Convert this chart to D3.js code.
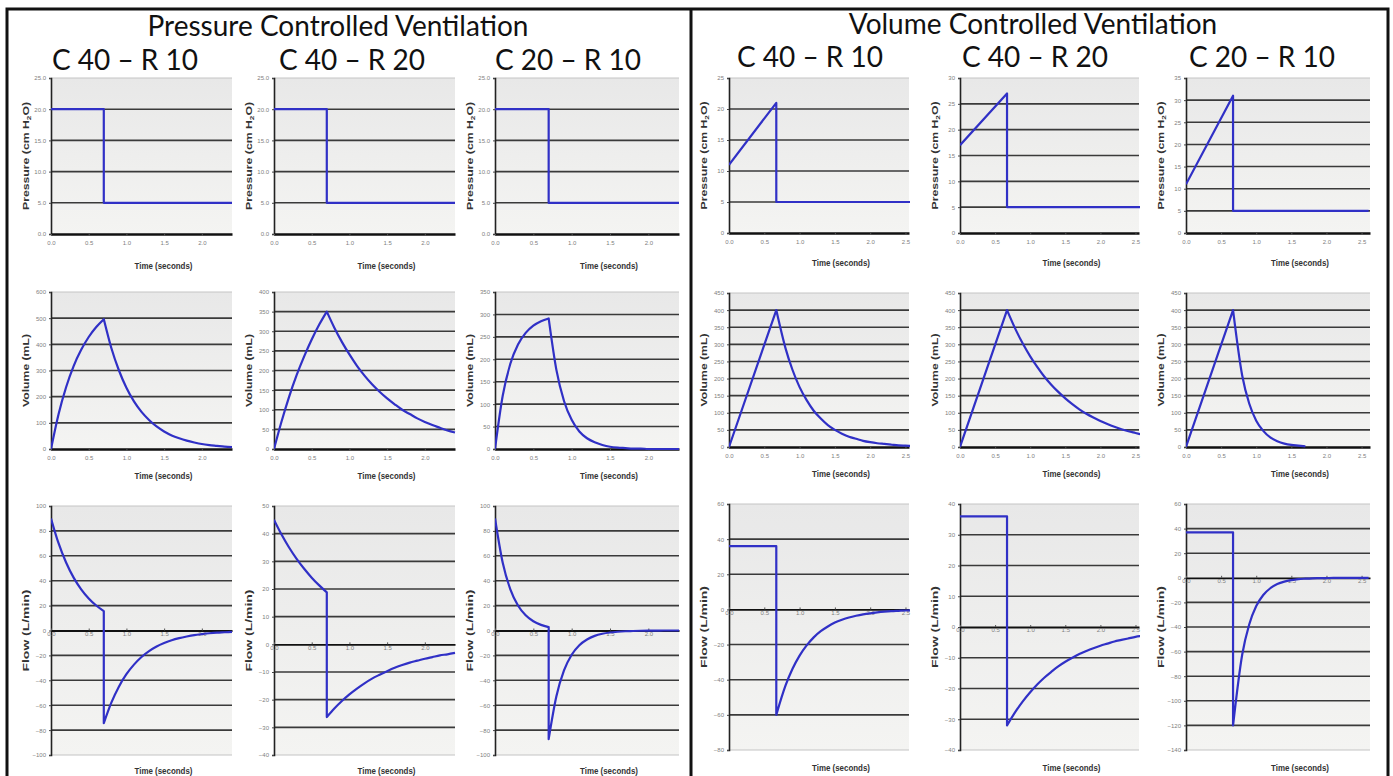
<!DOCTYPE html>
<html>
<head>
<meta charset="utf-8">
<script src="https://cdn.jsdelivr.net/npm/d3@7"></script>
<style>
body { margin: 0; background: #fff; }
svg text { font-family: "Liberation Sans", Arial, sans-serif; }
.big { font-family: Lato, "Open Sans", sans-serif !important; }
</style>
</head>
<body>
<div id="entry"></div>
<script>
// ---- data ----
var groupTitles = ['Pressure Controlled Ventilation', 'Volume Controlled Ventilation'];
var caseTitles = ['C 40 \u2013 R 10', 'C 40 \u2013 R 20', 'C 20 \u2013 R 10'];

// pressure controlled: time (s)
var pcvT = [0, 0.1, 0.2, 0.3, 0.4, 0.5, 0.6, 0.7, 0.7, 0.8, 0.9, 1.0, 1.1, 1.2, 1.3, 1.4, 1.5, 1.6, 1.7, 1.8, 1.9, 2.0, 2.1, 2.2, 2.3, 2.4];
var pcvPressT = [0, 0.7, 0.7, 2.4];
var pcvPress = [20, 20, 5, 5];

var pcvVolC40R10 = [0, 133, 236, 317, 379, 428, 466, 496, 496, 386, 301, 234, 182, 142, 111, 86, 67, 52, 41, 32, 25, 19, 15, 12, 9, 7];
var pcvFlowC40R10 = [90, 70.1, 54.6, 42.5, 33.1, 25.8, 20.1, 15.6, -74.4, -57.9, -45.1, -35.1, -27.4, -21.3, -16.6, -12.9, -10.1, -7.8, -6.1, -4.8, -3.7, -2.9, -2.2, -1.7, -1.4, -1.1];
var pcvVolC40R20 = [0, 70, 133, 188, 236, 279, 317, 350, 350, 309, 273, 241, 212, 187, 165, 146, 129, 114, 100, 89, 78, 69, 61, 54, 47, 42];
var pcvFlowC40R20 = [45, 39.7, 35.0, 30.9, 27.3, 24.1, 21.3, 18.8, -26.3, -23.2, -20.5, -18.1, -16.0, -14.1, -12.4, -11.0, -9.7, -8.5, -7.5, -6.6, -5.9, -5.2, -4.6, -4.0, -3.6, -3.1];
var pcvVolC20R10 = [0, 118, 190, 233, 259, 275, 285, 291, 291, 177, 107, 65, 39, 24, 15, 9, 5, 3, 2, 1, 1, 0, 0, 0, 0, 0];
var pcvFlowC20R10 = [90, 54.6, 33.1, 20.1, 12.2, 7.4, 4.5, 2.7, -87.3, -53.0, -32.1, -19.5, -11.8, -7.2, -4.3, -2.6, -1.6, -1.0, -0.6, -0.4, -0.2, -0.1, -0.1, 0, 0, 0];

// volume controlled: time (s)
var vcvT = [0, 0.67, 0.67, 0.8, 0.9, 1.0, 1.1, 1.2, 1.3, 1.4, 1.5, 1.6, 1.7, 1.8, 1.9, 2.0, 2.1, 2.2, 2.3, 2.4, 2.5, 2.6];
var vcvPressT = [0, 0.67, 0.67, 2.6];
var vcvPressC40R10 = [11, 21, 5, 5];
var vcvPressC40R20 = [17, 27, 5, 5];
var vcvPressC20R10 = [11, 31, 5, 5];

var vcvVolC40R10 = [0, 400, 400, 289, 225, 175, 137, 106, 83, 64, 50, 39, 30, 24, 18, 14, 11, 9, 7, 5, 4, 3];
var vcvFlowC40R10 = [36, 36, -60, -43.4, -33.8, -26.3, -20.5, -15.9, -12.4, -9.7, -7.5, -5.9, -4.6, -3.6, -2.8, -2.2, -1.7, -1.3, -1.0, -0.8, -0.6, -0.5];
var vcvVolC40R20 = [0, 400, 400, 340, 300, 265, 234, 206, 182, 161, 142, 125, 110, 97, 86, 76, 67, 59, 52, 46, 41, 36];
var vcvFlowC40R20 = [36, 36, -32, -27.2, -24.0, -21.2, -18.7, -16.5, -14.6, -12.8, -11.3, -10.0, -8.8, -7.8, -6.9, -6.1, -5.4, -4.7, -4.2, -3.7, -3.2, -2.9];
var vcvVolC20R10 = [0, 400, 400, 209, 127, 77, 47, 28, 17, 10, 6, 4, 2];
var vcvFlowC20R10 = [37, 37, -120, -62.6, -38.0, -23.0, -14.0, -8.5, -5.1, -3.1, -1.9, -1.1, -0.7, -0.4, -0.3, -0.2, -0.1, -0.1, 0, 0, 0, 0];

// tick labels
var pcvTimeTicks = [0, 0.5, 1, 1.5, 2];
var vcvTimeTicks = [0, 0.5, 1, 1.5, 2, 2.5];
var press25Ticks = [0, 5, 10, 15, 20, 25];
var press30Ticks = [0, 5, 10, 15, 20, 25, 30];
var press35Ticks = [0, 5, 10, 15, 20, 25, 30, 35];
var vol600Ticks = [0, 100, 200, 300, 400, 500, 600];
var vol400Ticks = [0, 50, 100, 150, 200, 250, 300, 350, 400];
var vol350Ticks = [0, 50, 100, 150, 200, 250, 300, 350];
var vol450Ticks = [0, 50, 100, 150, 200, 250, 300, 350, 400, 450];
var flow100Ticks = [-100, -80, -60, -40, -20, 0, 20, 40, 60, 80, 100];
var flow50Ticks = [-40, -30, -20, -10, 0, 10, 20, 30, 40, 50];
var flow60Ticks = [-80, -60, -40, -20, 0, 20, 40, 60];
var flow40Ticks = [-40, -30, -20, -10, 0, 10, 20, 30, 40];
var flow140Ticks = [-140, -120, -100, -80, -60, -40, -20, 0, 20, 40, 60];

// ---- layout ----
var W = 1393, H = 776;
var cols = [
  {x0: 51, x1: 232}, {x0: 274, x1: 455}, {x0: 495, x1: 679},
  {x0: 729, x1: 909}, {x0: 960, x1: 1139}, {x0: 1186, x1: 1370}
];
var pcvRows = [{y0: 78, y1: 234, ty: 269}, {y0: 292, y1: 449, ty: 479}, {y0: 506, y1: 755, ty: 774}];
var vcvRows = [{y0: 78, y1: 233, ty: 266}, {y0: 293, y1: 447, ty: 477}, {y0: 504, y1: 750, ty: 771}];
var yTitleLen = {P: 108, V: 73, F: 82};
var yTitleText = {V: 'Volume (mL)', F: 'Flow (L/min)'};

var f1 = d3.format('.1f'), f0 = d3.format('d');
var zip = function(t, v) { return v.map(function(d, i) { return [t[i], d]; }); };

var panels = [
  // pressure controlled
  {c: 0, r: pcvRows[0], xd: [0, 2.4], xt: pcvTimeTicks, yt: press25Ticks, yf: f1, yl: 'P', pts: zip(pcvPressT, pcvPress)},
  {c: 0, r: pcvRows[1], xd: [0, 2.4], xt: pcvTimeTicks, yt: vol600Ticks, yf: f0, yl: 'V', pts: zip(pcvT, pcvVolC40R10)},
  {c: 0, r: pcvRows[2], xd: [0, 2.4], xt: pcvTimeTicks, yt: flow100Ticks, yf: f0, yl: 'F', pts: zip(pcvT, pcvFlowC40R10)},
  {c: 1, r: pcvRows[0], xd: [0, 2.4], xt: pcvTimeTicks, yt: press25Ticks, yf: f1, yl: 'P', pts: zip(pcvPressT, pcvPress)},
  {c: 1, r: pcvRows[1], xd: [0, 2.4], xt: pcvTimeTicks, yt: vol400Ticks, yf: f0, yl: 'V', pts: zip(pcvT, pcvVolC40R20)},
  {c: 1, r: pcvRows[2], xd: [0, 2.4], xt: pcvTimeTicks, yt: flow50Ticks, yf: f0, yl: 'F', pts: zip(pcvT, pcvFlowC40R20)},
  {c: 2, r: pcvRows[0], xd: [0, 2.4], xt: pcvTimeTicks, yt: press25Ticks, yf: f1, yl: 'P', pts: zip(pcvPressT, pcvPress)},
  {c: 2, r: pcvRows[1], xd: [0, 2.4], xt: pcvTimeTicks, yt: vol350Ticks, yf: f0, yl: 'V', pts: zip(pcvT, pcvVolC20R10)},
  {c: 2, r: pcvRows[2], xd: [0, 2.4], xt: pcvTimeTicks, yt: flow100Ticks, yf: f0, yl: 'F', pts: zip(pcvT, pcvFlowC20R10)},
  // volume controlled
  {c: 3, r: vcvRows[0], xd: [0, 2.55], xt: vcvTimeTicks, yt: press25Ticks, yf: f0, yl: 'P', pts: zip(vcvPressT, vcvPressC40R10)},
  {c: 3, r: vcvRows[1], xd: [0, 2.55], xt: vcvTimeTicks, yt: vol450Ticks, yf: f0, yl: 'V', pts: zip(vcvT, vcvVolC40R10)},
  {c: 3, r: vcvRows[2], xd: [0, 2.55], xt: vcvTimeTicks, yt: flow60Ticks, yf: f0, yl: 'F', pts: zip(vcvT, vcvFlowC40R10)},
  {c: 4, r: vcvRows[0], xd: [0, 2.55], xt: vcvTimeTicks, yt: press30Ticks, yf: f0, yl: 'P', pts: zip(vcvPressT, vcvPressC40R20)},
  {c: 4, r: vcvRows[1], xd: [0, 2.55], xt: vcvTimeTicks, yt: vol450Ticks, yf: f0, yl: 'V', pts: zip(vcvT, vcvVolC40R20)},
  {c: 4, r: vcvRows[2], xd: [0, 2.55], xt: vcvTimeTicks, yt: flow40Ticks, yf: f0, yl: 'F', pts: zip(vcvT, vcvFlowC40R20)},
  {c: 5, r: vcvRows[0], xd: [0, 2.62], xt: vcvTimeTicks, yt: press35Ticks, yf: f0, yl: 'P', pts: zip(vcvPressT, vcvPressC20R10)},
  {c: 5, r: vcvRows[1], xd: [0, 2.62], xt: vcvTimeTicks, yt: vol450Ticks, yf: f0, yl: 'V', pts: zip(vcvT, vcvVolC20R10)},
  {c: 5, r: vcvRows[2], xd: [0, 2.62], xt: vcvTimeTicks, yt: flow140Ticks, yf: f0, yl: 'F', pts: zip(vcvT, vcvFlowC20R10)}
];

var svg = d3.select('#entry').append('svg')
  .attr('width', W)
  .attr('height', H);

var defs = svg.append('defs');
var grad = defs.append('linearGradient').attr('id', 'plotbg')
  .attr('x1', 0).attr('y1', 0).attr('x2', 0).attr('y2', 1);
grad.append('stop').attr('offset', '0%').attr('stop-color', '#e8e8e8');
grad.append('stop').attr('offset', '100%').attr('stop-color', '#f4f4f2');

svg.append('rect').attr('width', W).attr('height', H).attr('fill', '#fff');

var smooth = d3.line().curve(d3.curveMonotoneX);

// split a trace where time repeats, smooth each piece, join with a vertical step
function tracePath(pts, x, y) {
  var xy = pts.map(function(d) { return [x(d[0]), y(d[1])]; });
  var pieces = [], cur = [xy[0]];
  for (var k = 1; k < pts.length; k++) {
    if (pts[k][0] === pts[k - 1][0]) { pieces.push(cur); cur = []; }
    cur.push(xy[k]);
  }
  pieces.push(cur);
  return pieces.map(function(s, i) {
    var d = s.length > 1 ? smooth(s) : 'M' + s[0][0] + ',' + s[0][1];
    return i === 0 ? d : d.replace(/^M/, 'L');
  }).join('');
}

panels.forEach(function(p, i) {
  var col = cols[p.c], r = p.r;
  var x = d3.scaleLinear().domain(p.xd).range([col.x0, col.x1]);
  var y = d3.scaleLinear().domain(d3.extent(p.yt)).range([r.y1, r.y0]);
  var g = svg.append('g');

  defs.append('clipPath').attr('id', 'clip' + i)
    .append('rect').attr('x', col.x0).attr('y', r.y0 - 2)
    .attr('width', col.x1 - col.x0 + 1).attr('height', r.y1 - r.y0 + 4);

  g.append('rect')
    .attr('x', col.x0).attr('y', r.y0)
    .attr('width', col.x1 - col.x0).attr('height', r.y1 - r.y0)
    .attr('fill', 'url(#plotbg)');

  var lo = d3.min(p.yt), hi = d3.max(p.yt);
  g.selectAll('line.grid')
    .data(p.yt.filter(function(d) { return d !== 0; }))
    .join('line')
    .attr('class', 'grid')
    .attr('x1', col.x0).attr('x2', col.x1)
    .attr('y1', function(d) { return y(d); })
    .attr('y2', function(d) { return y(d); })
    .attr('stroke', function(d) { return (d === hi || d === lo) ? '#c4c4c4' : '#3a3a3a'; })
    .attr('stroke-width', function(d) { return (d === hi || d === lo) ? 1 : 1.6; });

  // y axis
  var ya = g.append('g')
    .attr('transform', 'translate(' + col.x0 + ',0)')
    .call(d3.axisLeft(y).tickValues(p.yt).tickFormat(p.yf).tickSize(2).tickPadding(3));
  ya.select('.domain').attr('stroke', '#222').attr('stroke-width', 1.6);
  ya.selectAll('.tick line').attr('stroke', '#444');
  ya.selectAll('text').attr('font-size', 6).attr('fill', '#808080');

  // x axis on the zero line
  var y0 = y(0);
  var xa = g.append('g')
    .attr('transform', 'translate(0,' + y0 + ')')
    .call(d3.axisBottom(x).tickValues(p.xt).tickFormat(f1)
      .tickSizeInner(lo < 0 ? -2 : 2).tickSizeOuter(0).tickPadding(lo < 0 ? 1 : 5));
  xa.select('.domain').attr('stroke', '#111').attr('stroke-width', lo < 0 ? 1.8 : 2.4);
  xa.selectAll('.tick line').attr('stroke', '#555');
  xa.selectAll('text').attr('font-size', 6).attr('fill', '#808080');

  // trace
  g.append('path')
    .attr('clip-path', 'url(#clip' + i + ')')
    .attr('d', tracePath(p.pts, x, y))
    .attr('fill', 'none')
    .attr('stroke', '#3030c6')
    .attr('stroke-width', 2.2)
    .attr('stroke-linejoin', 'round');

  // axis titles
  g.append('text')
    .attr('x', (col.x0 + col.x1) / 2 + 22).attr('y', r.ty)
    .attr('text-anchor', 'middle')
    .attr('font-size', 8.5).attr('font-weight', 'bold').attr('fill', '#333')
    .attr('textLength', 58).attr('lengthAdjust', 'spacingAndGlyphs')
    .text('Time (seconds)');

  var yt = g.append('text')
    .attr('transform', 'translate(' + (col.x0 - 22) + ',' + ((r.y0 + r.y1) / 2) + ') rotate(-90)')
    .attr('text-anchor', 'middle')
    .attr('font-size', 9).attr('font-weight', 'bold').attr('fill', '#333')
    .attr('textLength', yTitleLen[p.yl]).attr('lengthAdjust', 'spacingAndGlyphs');
  if (p.yl === 'P') {
    yt.append('tspan').text('Pressure (cm H');
    yt.append('tspan').attr('font-size', 6).attr('dy', 2).text('2');
    yt.append('tspan').attr('dy', -2).text('O)');
  } else {
    yt.text(yTitleText[p.yl]);
  }
});

// frame and headings
svg.append('rect')
  .attr('x', 7).attr('y', 9).attr('width', 1381).attr('height', 780)
  .attr('fill', 'none').attr('stroke', '#111').attr('stroke-width', 3);
svg.append('line')
  .attr('x1', 691).attr('x2', 691).attr('y1', 9).attr('y2', H)
  .attr('stroke', '#111').attr('stroke-width', 3);

svg.selectAll('text.group')
  .data(groupTitles)
  .join('text')
  .attr('class', 'group big')
  .attr('x', function(d, i) { return i === 0 ? 338 : 1033; })
  .attr('y', function(d, i) { return i === 0 ? 36 : 34; })
  .attr('text-anchor', 'middle')
  .attr('font-size', 28)
  .attr('fill', '#111')
  .text(function(d) { return d; });

var caseX = [125, 352, 568, 810, 1035, 1262];
svg.selectAll('text.case')
  .data(caseX)
  .join('text')
  .attr('class', 'case big')
  .attr('x', function(d) { return d; })
  .attr('y', function(d, i) { return i < 3 ? 70 : 67; })
  .attr('text-anchor', 'middle')
  .attr('font-size', 28)
  .attr('fill', '#111')
  .text(function(d, i) { return caseTitles[i % 3]; });
</script>
</body>
</html>
